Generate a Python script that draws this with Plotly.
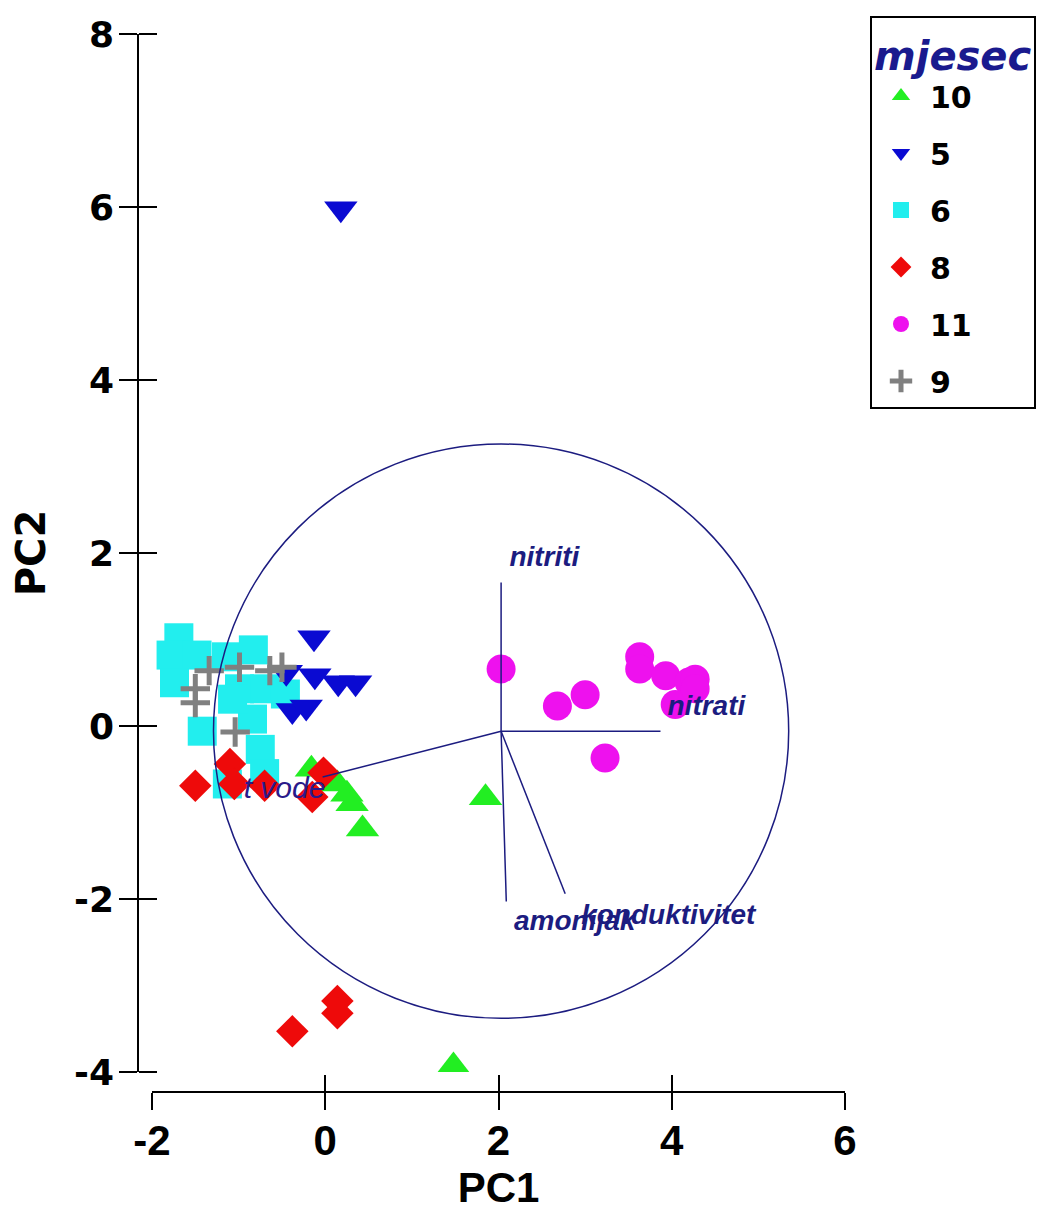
import plotly.graph_objects as go

# ---------------- data (PC1, PC2 scores per month) ----------------
months = ["10", "5", "6", "8", "11", "9"]

m10_x = [1.85, 1.48, -0.16, 0.14, 0.25, 0.31, 0.43]
m10_y = [-0.83, -3.93, -0.50, -0.67, -0.79, -0.90, -1.19]

m5_x = [0.18, -0.13, -0.12, 0.15, 0.35, -0.38, -0.22, -0.45]
m5_y = [5.98, 1.02, 0.58, 0.50, 0.50, 0.18, 0.22, 0.62]

m6_x = [-1.69, -1.78, -1.48, -1.74, -1.42, -1.14, -0.83, -0.99, -0.70, -0.46,
        -0.84, -0.75, -0.70, -1.07, -1.13]
m6_y = [1.02, 0.82, 0.82, 0.50, -0.06, 0.80, 0.88, 0.43, 0.43, 0.37,
        0.08, -0.27, -0.55, 0.31, -0.67]

m8_x = [-1.50, -1.10, -1.05, -0.70, -0.02, -0.15, -0.38, 0.14, 0.14]
m8_y = [-0.69, -0.44, -0.67, -0.69, -0.54, -0.82, -3.53, -3.18, -3.32]

m11_x = [2.03, 2.68, 3.00, 3.23, 3.63, 3.63, 3.93, 4.20, 4.27, 4.04, 4.27]
m11_y = [0.66, 0.23, 0.36, -0.37, 0.80, 0.66, 0.58, 0.51, 0.54, 0.25, 0.43]

m9_x = [-1.50, -1.50, -1.34, -0.99, -0.64, -0.50, -1.04]
m9_y = [0.43, 0.27, 0.64, 0.68, 0.64, 0.68, -0.07]

# variable loading vectors (biplot)
var_names = ["nitriti", "nitrati", "amonijak", "konduktivitet", "t vode"]
origin_x, origin_y = 2.03, -0.06
var_x = [2.03, 3.87, 2.09, 2.77, -0.03]
var_y = [1.66, -0.06, -2.03, -1.94, -0.59]
label_x = [2.53, 4.40, 2.88, 3.96, -0.47]
label_y = [1.93, 0.21, -2.28, -2.21, -0.75]
circle_r = 3.32

x_ticks = [-2, 0, 2, 4, 6]
x_ticktext = ["-2", "0", "2", "4", "6"]
y_ticks = [-4, -2, 0, 2, 4, 6, 8]
y_ticktext = ["-4", "-2", "0", "2", "4", "6", "8"]

# ---------------- styling ----------------
NAVY = "#1c1c80"
series = {
    "10": dict(x=m10_x, y=m10_y, symbol="triangle-up", color="#22ee22", size=29, rank=1, order=0),
    "6": dict(x=m6_x, y=m6_y, symbol="square", color="#22eeee", size=29, rank=3, order=1),
    "5": dict(x=m5_x, y=m5_y, symbol="triangle-down", color="#0a0ad2", size=29, rank=2, order=2),
    "8": dict(x=m8_x, y=m8_y, symbol="diamond", color="#ee0a0a", size=25, rank=4, order=3),
    "11": dict(x=m11_x, y=m11_y, symbol="circle", color="#ee11ee", size=29, rank=5, order=4),
    "9": dict(x=m9_x, y=m9_y, symbol="cross-thin", color="#808080", size=21, rank=6, order=5),
}

fig = go.Figure()
for name in sorted(series, key=lambda k: series[k]["order"]):
    s = series[name]
    marker = dict(symbol=s["symbol"], color=s["color"], size=s["size"])
    if s["symbol"] == "cross-thin":
        marker["line"] = dict(color=s["color"], width=5)
    else:
        marker["line"] = dict(width=0)
    fig.add_trace(go.Scatter(
        x=s["x"], y=s["y"], mode="markers", name=name, marker=marker,
        legendgroup=name, legendrank=s["rank"],
    ))

# loading vectors
vx, vy = [], []
for ex, ey in zip(var_x, var_y):
    vx += [origin_x, ex, None]
    vy += [origin_y, ey, None]
fig.add_trace(go.Scatter(x=vx, y=vy, mode="lines", line=dict(color=NAVY, width=1.5),
                         showlegend=False, hoverinfo="skip", xaxis="x2", yaxis="y2"))

# vector labels
bold_idx = [0, 1, 2, 3]
fig.add_trace(go.Scatter(
    x=[label_x[i] for i in bold_idx], y=[label_y[i] for i in bold_idx],
    text=[var_names[i] for i in bold_idx], mode="text",
    textfont=dict(family="Liberation Sans, Arial", size=28, color=NAVY, style="italic", weight="bold"),
    showlegend=False, hoverinfo="skip", xaxis="x2", yaxis="y2"))
fig.add_trace(go.Scatter(
    x=[label_x[4]], y=[label_y[4]], text=[var_names[4]], mode="text",
    textfont=dict(family="Liberation Sans, Arial", size=30, color="#2a1a8a", style="italic"),
    showlegend=False, hoverinfo="skip", xaxis="x2", yaxis="y2"))

# correlation circle
fig.add_shape(type="circle", xref="x", yref="y",
              x0=origin_x - circle_r, x1=origin_x + circle_r,
              y0=origin_y - circle_r, y1=origin_y + circle_r,
              line=dict(color=NAVY, width=1.5), layer="above")

# ---------------- layout ----------------
W, H = 1060, 1212
OFF = 8  # page body margin in the browser
ML, MR, MT, MB = 100, 200, 10, 100
pw, ph = W - ML - MR, H - MT - MB

def px_x(p):
    return (p - OFF - ML) / pw

def px_y(p):
    return (H - MB - (p - OFF)) / ph

xdom = [px_x(152), px_x(845)]
ydom = [px_y(1072), px_y(34)]
xpos = px_y(1092)
ypos = px_x(138)

xtickfont = dict(family="Liberation Sans, Arial", size=42, color="black", weight="bold")
ytickfont = dict(family="DejaVu Sans", size=36, color="black", weight="bold")

fig.update_layout(
    width=W, height=H,
    margin=dict(l=ML, r=MR, t=MT, b=MB, autoexpand=False),
    paper_bgcolor="white", plot_bgcolor="white",
    xaxis=dict(domain=xdom, range=[-2, 6], anchor="free", position=xpos, automargin=False,
               tickvals=x_ticks, ticktext=x_ticktext,
               ticks="outside", ticklen=17, tickwidth=1.5, tickcolor="black",
               showline=True, linecolor="black", linewidth=1.5, showgrid=False, zeroline=False,
               tickfont=xtickfont, ticklabelstandoff=-5,
               title=dict(text="PC1", font=dict(family="Liberation Sans, Arial",
                                                size=42, color="black", weight="bold"), standoff=0)),
    yaxis=dict(domain=ydom, range=[-4, 8], anchor="free", position=ypos, automargin=False,
               tickvals=y_ticks, ticktext=y_ticktext,
               ticks="outside", ticklen=18, tickwidth=1.5, tickcolor="black",
               showline=True, linecolor="black", linewidth=1.5, showgrid=False, zeroline=False,
               tickfont=ytickfont, ticklabelstandoff=-2,
               title=dict(text="PC2", font=dict(family="DejaVu Sans", size=40, color="black", weight="bold"), standoff=20)),
    xaxis2=dict(overlaying="x", range=[-2, 6], anchor="free", position=xpos, automargin=False,
                tickvals=x_ticks, ticks="inside", ticklen=17, tickwidth=1.5, tickcolor="black",
                showticklabels=False, showline=False, showgrid=False, zeroline=False),
    yaxis2=dict(overlaying="y", range=[-4, 8], anchor="free", position=ypos, automargin=False,
                side="right",
                tickvals=y_ticks, ticks="outside", ticklen=18, tickwidth=1.5, tickcolor="black",
                showticklabels=False, showline=False, showgrid=False, zeroline=False),
    legend=dict(x=px_x(870), y=px_y(16), xanchor="left", yanchor="top",
                bordercolor="black", borderwidth=2, bgcolor="white",
                font=dict(family="DejaVu Sans", size=30, color="black", weight="bold"),
                title=dict(text="mjesec", font=dict(family="DejaVu Sans", size=40, color="#1a1a8e",
                                                     weight="bold", style="italic")),
                tracegroupgap=15, itemsizing="trace", itemwidth=48),
    showlegend=True,
)

fig.write_html("out.html")
